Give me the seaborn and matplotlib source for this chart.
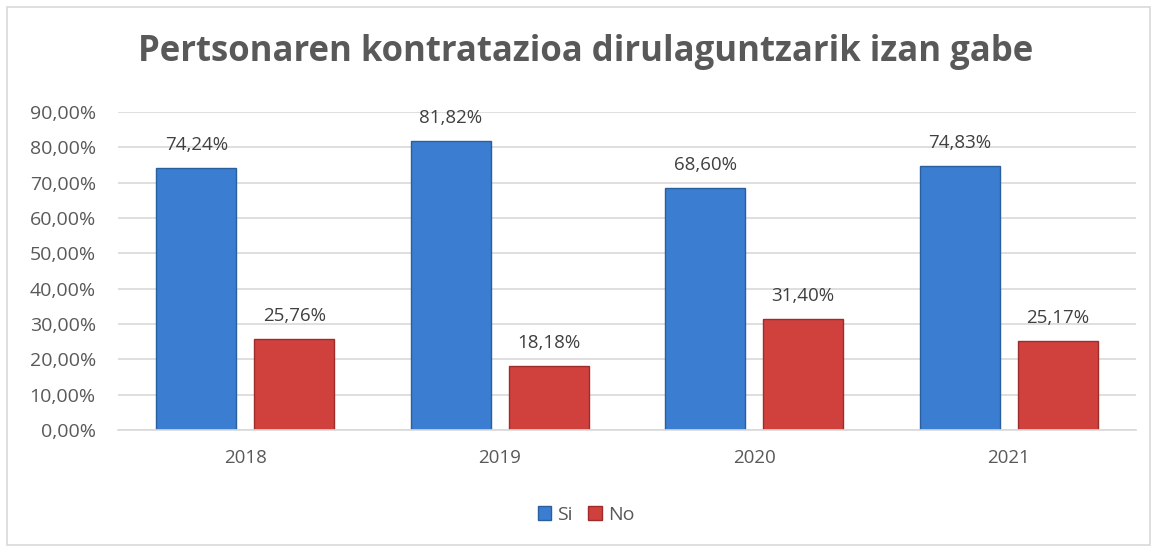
import matplotlib
matplotlib.use("Agg")
import matplotlib.pyplot as plt
import matplotlib.patches as mpatches
import seaborn as sns
import pandas as pd

years = ["2018", "2019", "2020", "2021"]
si_values = [74.24, 81.82, 68.60, 74.83]
no_values = [25.76, 18.18, 31.40, 25.17]
series = ["Si", "No"]
yticks = [0, 10, 20, 30, 40, 50, 60, 70, 80, 90]
title = "Pertsonaren kontratazioa dirulaguntzarik izan gabe"

df = pd.DataFrame({
    "year": years * 2,
    "value": si_values + no_values,
    "serie": ["Si"] * 4 + ["No"] * 4,
})

sns.set_theme(style="white")
plt.rcParams["font.family"] = ["Open Sans", "DejaVu Sans"]
grey = "#595959"

fig = plt.figure(figsize=(11.53, 5.47), dpi=100)
fig.patches.append(mpatches.Rectangle((7 / 1153, 2 / 547), 1143 / 1153, 538 / 547,
                                      transform=fig.transFigure, fill=False,
                                      edgecolor="#d9d9d9", linewidth=1.2))
ax = fig.add_axes([118 / 1153, 1 - 430 / 547, 1018 / 1153, 318 / 547])

palette = {"Si": "#3b7dd0", "No": "#d0413e"}
sns.barplot(data=df, x="year", y="value", hue="serie", hue_order=series,
            palette=palette, width=0.77, gap=0.185, ax=ax, legend=False,
            edgecolor=None, linewidth=0, saturation=1)

edge = {"Si": "#2a5f9e", "No": "#9e2c2a"}
for cont, s in zip(ax.containers, series):
    for b in cont:
        b.set_edgecolor(edge[s])
        b.set_linewidth(1)
    ax.bar_label(cont, labels=[f"{v:.2f}%".replace(".", ",") for v in cont.datavalues],
                 padding=10, fontsize=13.5, color="#404040")

ax.set_ylim(0, 90)
ax.set_yticks(yticks)
ax.set_yticklabels([f"{t:.2f}%".replace(".", ",") for t in yticks], fontsize=14, color=grey)
ax.tick_params(axis="x", labelsize=13.5, labelcolor=grey, pad=14, length=0)
ax.tick_params(axis="y", length=0, pad=16)
ax.set_xlabel("")
ax.set_ylabel("")
ax.yaxis.grid(True, color="#d9d9d9", linewidth=1.2)
ax.set_axisbelow(True)
for sp in ["top", "right", "left"]:
    ax.spines[sp].set_visible(False)
ax.spines["bottom"].set_color("#d9d9d9")
ax.spines["bottom"].set_linewidth(1.2)

fig.text(586 / 1153, 1 - 52 / 547, title, ha="center", va="center",
         fontsize=25, fontweight="bold", color=grey)

handles = [mpatches.Patch(facecolor=palette[s], edgecolor=edge[s], label=s) for s in series]
fig.legend(handles=handles, loc="center", bbox_to_anchor=(586 / 1153, 1 - 515 / 547),
           ncol=2, frameon=False, fontsize=14, handlelength=0.7, handleheight=0.7,
           handletextpad=0.3, columnspacing=0.8, labelcolor=grey)

fig.savefig("out.png", dpi=100)
